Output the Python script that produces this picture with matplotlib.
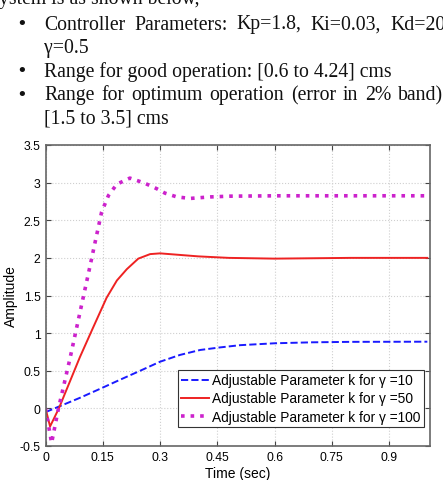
import matplotlib
matplotlib.use("Agg")
import matplotlib.pyplot as plt

# ---- data ----
t_g10 = [0, 0.038, 0.09, 0.143, 0.195, 0.248, 0.30, 0.352, 0.405, 0.457, 0.51,
         0.6, 0.7, 0.8, 1.0]
y_g10 = [-0.05, 0.03, 0.14, 0.26, 0.38, 0.50, 0.62, 0.71, 0.776, 0.81, 0.84,
         0.865, 0.878, 0.884, 0.886]

t_g50 = [0, 0.012, 0.035, 0.09, 0.123, 0.16, 0.187, 0.213, 0.243, 0.274, 0.30,
         0.35, 0.40, 0.48, 0.6, 0.8, 1.0]
y_g50 = [0, -0.24, 0.0, 0.68, 1.055, 1.47, 1.70, 1.85, 1.99, 2.05, 2.06,
         2.04, 2.02, 2.0, 1.99, 2.0, 2.0]

t_g100 = [0, 0.016, 0.034, 0.064, 0.093, 0.117, 0.130, 0.147, 0.165, 0.187, 0.221,
          0.256, 0.274, 0.291, 0.313, 0.344, 0.379, 0.431, 0.483, 0.606, 0.8, 1.0]
y_g100 = [0, -0.46, 0.0, 0.66, 1.34, 1.90, 2.21, 2.61, 2.83, 2.98, 3.06,
          3.00, 2.96, 2.92, 2.86, 2.81, 2.79, 2.81, 2.82, 2.825, 2.825, 2.825]

labels = ["Adjustable Parameter k for \u03b3 =10",
          "Adjustable Parameter k for \u03b3 =50",
          "Adjustable Parameter k for \u03b3 =100"]

x_ticks = [0, 0.15, 0.3, 0.45, 0.6, 0.75, 0.9]
x_tick_labels = ["0", "0.15", "0.3", "0.45", "0.6", "0.75", "0.9"]
y_ticks = [-0.5, 0, 0.5, 1, 1.5, 2, 2.5, 3, 3.5]
y_tick_labels = ["-0.5", "0", "0.5", "1", "1.5", "2", "2.5", "3", "3.5"]

W, H = 443, 481
fig = plt.figure(figsize=(W / 100, H / 100), dpi=100)
fig.patch.set_facecolor("white")
renderer = fig.canvas.get_renderer()

# ---- document text above the figure ----
serif = "Liberation Serif"
fs_doc = 14.2

def ftxt(x, y, s, **kw):
    return fig.text(x / W, 1 - y / H, s, family=serif, fontsize=fs_doc,
                    va="baseline", ha="left", color="#111111", **kw)

def justify(words, y, x0, x1):
    ts = [ftxt(x0, y, w) for w in words]
    widths = [t.get_window_extent(renderer).width for t in ts]
    gap = (x1 - x0 - sum(widths)) / (len(words) - 1)
    x = x0
    for t, w in zip(ts, widths):
        t.set_x(x / W)
        x += w + gap

ftxt(-1, 4, "ystem is as shown below,")
for x, w in [(44, "Controller"), (134, "Parameters:"), (236, "Kp=1.8,"),
             (310, "Ki=0.03,"), (390, "Kd=20")]:
    ftxt(x, 29.5, w)
ftxt(44, 53, "\u03b3=0.5")
ftxt(44, 76.5, "Range for good operation: [0.6 to 4.24] cms")
justify(["Range", "for", "optimum", "operation", "(error", "in", "2%", "band)"],
        100, 44, 443)
ftxt(44, 123.5, "[1.5 to 3.5] cms")
for y in [29.5, 76.5, 100]:
    fig.text(22 / W, 1 - (y - 5.5) / H, "\u2022", family="DejaVu Sans", fontsize=13,
             va="center", ha="center", color="#111111")

# ---- axes ----
left, right, top, bottom = 45.5, 430, 146, 447
ax = fig.add_axes([left / W, 1 - bottom / H, (right - left) / W, (bottom - top) / H])

ax.plot(t_g10, y_g10, linestyle="--", color="#1a1aff", lw=1.4, label=labels[0])
ax.plot(t_g50, y_g50, linestyle="-", color="#ee2222", lw=1.4, label=labels[1])
ax.plot(t_g100, y_g100, linestyle=":", color="#cc22cc", lw=2.6, label=labels[2])

ax.set_xlim(0, 1.007)
ax.set_ylim(-0.5, 3.5)
ax.set_xticks(x_ticks)
ax.set_xticklabels(x_tick_labels)
ax.set_yticks(y_ticks)
ax.set_yticklabels(y_tick_labels)

sans = "Liberation Sans"
for lab in ax.get_xticklabels() + ax.get_yticklabels():
    lab.set_family(sans)
    lab.set_fontsize(8.8)
ax.tick_params(direction="in", length=3.5, width=0.8, top=True, right=True,
               color="#444444", pad=3.5)
ax.grid(True, linestyle=":", color="#cfcfcf", lw=0.8)
for sp in ax.spines.values():
    sp.set_color("#666666")
    sp.set_linewidth(1.2)

ax.set_xlabel("Time (sec)", family=sans, fontsize=10, labelpad=2.5)
ax.set_ylabel("Amplitude", family=sans, fontsize=10, labelpad=1)

leg = ax.legend(loc="lower right", bbox_to_anchor=(0.984, 0.063),
                prop={"family": sans, "size": 9.9}, frameon=True, fancybox=False,
                edgecolor="#333333", framealpha=1, handlelength=2.0,
                handletextpad=0.25, labelspacing=0.3, borderpad=0.25,
                borderaxespad=0)
leg.get_frame().set_linewidth(0.8)

fig.savefig("out.png", dpi=100, facecolor="white")
